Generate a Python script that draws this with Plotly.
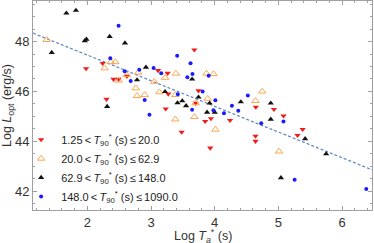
import plotly.graph_objects as go

# ---- data ----
red_x = [1.98, 2.24, 2.41, 2.49, 2.62, 2.30, 3.11, 3.26, 3.27, 3.23, 3.48, 3.68, 3.745, 3.70,
         3.94, 3.85, 4.24, 3.93, 4.645, 4.64, 4.64, 4.93, 5.08, 5.38, 5.30]
red_y = [46.92, 47.13, 46.49, 46.49, 46.61, 45.69, 46.84, 46.73, 45.90, 45.30, 44.37, 47.67, 46.03, 45.53,
         44.91, 44.80, 44.84, 43.73, 45.37, 44.21, 44.00, 45.28, 45.02, 44.48, 44.24]

orange_x = [1.36, 2.27, 2.365, 2.44, 2.49, 2.62, 2.80, 2.76, 2.78, 2.90, 3.05, 3.22, 3.39, 3.13,
            3.38, 3.38, 3.87, 3.98, 3.89, 3.70, 3.68, 4.01, 4.64, 4.745, 5.01]
orange_y = [48.07, 46.93, 47.18, 47.18, 46.44, 46.66, 46.76, 46.13, 45.82, 45.86, 46.39, 46.55, 46.72, 45.97,
            45.86, 44.88, 46.72, 46.70, 45.71, 45.53, 44.98, 44.47, 45.62, 46.00, 43.59]

black_x = [1.44, 1.67, 1.82, 1.96, 1.985, 2.35, 2.59, 2.31, 2.92, 2.78, 3.22, 3.415, 3.49, 3.55,
           3.645, 3.745, 3.92, 3.88, 4.00, 4.41, 4.88, 4.88, 5.42, 5.75, 5.04]
black_y = [47.56, 49.14, 49.25, 48.03, 48.09, 48.20, 47.94, 45.39, 46.97, 46.46, 45.99, 45.54, 45.62, 45.42,
           46.49, 45.77, 45.53, 45.16, 45.16, 45.58, 45.53, 44.88, 44.10, 43.49, 42.53]

blue_x = [2.49, 2.36, 2.585, 2.68, 2.815, 2.90, 2.975, 3.04, 3.16, 3.41, 3.57, 3.42, 3.62, 3.65,
          3.905, 3.81, 4.01, 3.645, 3.98, 4.145, 4.27, 4.37, 4.52, 4.73, 5.08, 5.255, 6.38]
blue_y = [48.64, 47.33, 46.81, 46.42, 46.87, 45.66, 45.06, 46.94, 46.73, 47.43, 46.57, 45.89, 47.13, 46.70,
          46.63, 46.00, 45.65, 45.26, 45.24, 45.12, 45.42, 45.22, 45.84, 44.72, 44.79, 42.45, 42.08]

TS = "\u2009"  # thin space
series_names = [
    f"1.25{TS}<{TS}<i>T</i><sub>90</sub><sup>*</sup> (s){TS}≤{TS}20.0",
    f"20.0{TS}<{TS}<i>T</i><sub>90</sub><sup>*</sup> (s){TS}≤{TS}62.9",
    f"62.9{TS}<{TS}<i>T</i><sub>90</sub><sup>*</sup> (s){TS}≤{TS}148.0",
    f"148.0{TS}<{TS}<i>T</i><sub>90</sub><sup>*</sup> (s){TS}≤{TS}1090.0",
]
x_title = "Log <i>T<sub>a</sub></i><sup>*</sup> (s)"
y_title = "Log <i>L</i><sub>opt</sub> (erg/s)"

FIT_SLOPE = -1.03
FIT_INTERCEPT = 49.52

x_range = [1.146, 6.47]
y_range = [41.24, 49.63]
x_ticks = [2, 3, 4, 5, 6]
y_ticks = [42, 44, 46, 48]

FONT = "Liberation Sans, Arial, sans-serif"

fig = go.Figure()

fit_x = x_range
fit_y = [FIT_INTERCEPT + FIT_SLOPE * v for v in fit_x]
fig.add_trace(go.Scatter(x=fit_x, y=fit_y, mode="lines", showlegend=False,
                         line=dict(color="#5b86c4", width=1.2, dash="3px,2px"), hoverinfo="skip"))

fig.add_trace(go.Scatter(x=red_x, y=red_y, mode="markers", name=series_names[0], legendgroup="a",
                         marker=dict(symbol="triangle-down", size=5.5, color="#f21c1c", line=dict(width=0))))
fig.add_trace(go.Scatter(x=orange_x, y=orange_y, mode="markers", name=series_names[1], legendgroup="b",
                         marker=dict(symbol="triangle-up-open", size=6.5, color="#ffa54f", line=dict(width=1))))
fig.add_trace(go.Scatter(x=black_x, y=black_y, mode="markers", name=series_names[2], legendgroup="c",
                         marker=dict(symbol="triangle-up", size=5.5, color="#111111", line=dict(width=0))))
fig.add_trace(go.Scatter(x=blue_x, y=blue_y, mode="markers", name=series_names[3], legendgroup="d",
                         marker=dict(symbol="circle", size=4, color="#1a1aff", line=dict(width=0))))

axis_common = dict(
    showline=True, linecolor="#a0a0a0", linewidth=1, mirror="ticks",
    ticks="inside", ticklen=4, tickcolor="#a0a0a0", tickwidth=1,
    showgrid=False, zeroline=False, automargin=False,
    tickfont=dict(family=FONT, size=13, color="#333333"),
)

fig.update_xaxes(range=x_range, tickvals=x_ticks, **axis_common,
                 minor=dict(dtick=0.2, ticks="inside", ticklen=2, tickcolor="#a0a0a0", showgrid=False))
fig.update_yaxes(range=y_range, tickvals=y_ticks, **axis_common,
                 minor=dict(dtick=0.5, ticks="inside", ticklen=2, tickcolor="#a0a0a0", showgrid=False),
                 title=dict(text=y_title, standoff=2,
                            font=dict(family=FONT, size=12.5, color="#333333")))

fig.add_annotation(text=x_title, xref="paper", yref="paper", x=0.5, y=-0.07,
                   xanchor="center", yanchor="top", showarrow=False,
                   font=dict(family=FONT, size=12.5, color="#333333"))

fig.update_layout(
    width=374, height=243,
    margin=dict(l=33, r=2, t=1, b=33),
    paper_bgcolor="white", plot_bgcolor="white",
    font=dict(family=FONT, color="#333333"),
    legend=dict(x=-0.035, y=-0.005, xanchor="left", yanchor="bottom",
                bgcolor="rgba(0,0,0,0)", font=dict(family=FONT, size=11, color="#222222"),
                tracegroupgap=0, itemwidth=30),
)

fig.write_html("out.html", config={"displayModeBar": False},
               post_script="document.body.style.margin='0px';")
